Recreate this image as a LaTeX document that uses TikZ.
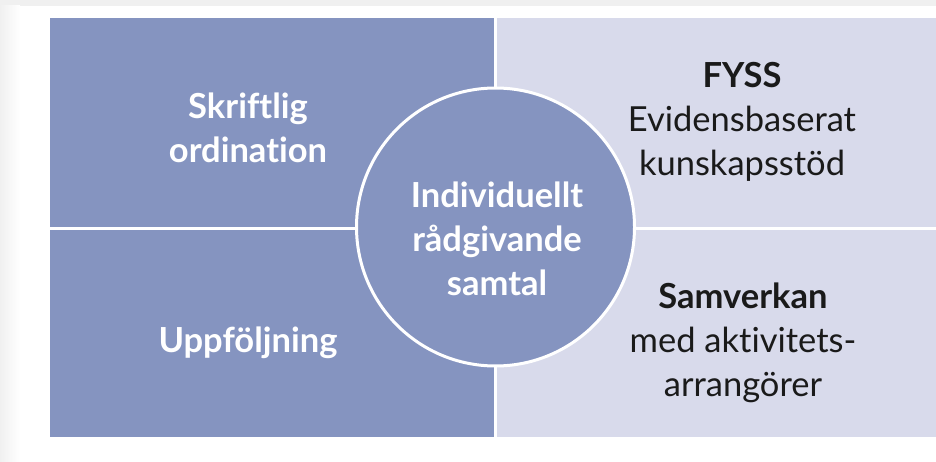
\documentclass[tikz,border=0pt]{standalone}
\usepackage{fontspec}
\setmainfont{Lato}[Ligatures=NoCommon]
\definecolor{darkpanel}{RGB}{133,148,192}
\definecolor{lightpanel}{RGB}{216,218,235}
\definecolor{txtdark}{RGB}{26,26,26}
\definecolor{outergray}{RGB}{240,240,240}
\begin{document}
\begin{tikzpicture}[x=1pt,y=-1pt,
  panel/.style={rectangle, inner sep=0pt, outer sep=0pt, draw=none},
  divider/.style={white, line width=3pt},
  lbl/.style={align=center, inner sep=0pt, font=\fontsize{34.5}{44}\selectfont},
  lbllight/.style={lbl, text=white, font=\fontsize{34.5}{44}\selectfont\bfseries},
  lbldark/.style={lbl, text=txtdark}]
\useasboundingbox (0,0) rectangle (936,462);
\fill[outergray] (0,0) rectangle (936,462);
\shade[left color=outergray, right color=white] (0,6) rectangle (20,462);
\fill[white] (20,6) rectangle (936,462);
% panels
\node[panel, fill=darkpanel, minimum width=445.5pt, minimum height=211pt] (tl) at (272.75,123.5) {};
\node[panel, fill=darkpanel, minimum width=445.5pt, minimum height=208pt] (bl) at (272.75,333) {};
\node[panel, fill=lightpanel, minimum width=440.5pt, minimum height=211pt] (tr) at (715.75,123.5) {};
\node[panel, fill=lightpanel, minimum width=440.5pt, minimum height=208pt] (br) at (715.75,333) {};
\coordinate (vtop) at (495.5,18);
\coordinate (vbot) at (495.5,437);
\coordinate (hl) at (50,229);
\coordinate (hr) at (936,229);
\draw[divider] (vtop) -- (vbot);
\draw[divider] (hl) -- (hr);
% centre circle
\node[circle, fill=darkpanel, draw=white, line width=3pt, minimum size=278pt, inner sep=0pt] (c) at (495.5,227) {};
% texts
\node[lbllight] (t1) at (248,128) {Skriftlig\\ordination};
\node[lbllight] (t2) at (248,343) {Uppföljning};
\node[lbllight] (t3) at (497,239) {Individuellt\\rådgivande\\samtal};
\node[lbldark] (t4) at (742,122) {\textbf{FYSS}\\Evidensbaserat\\kunskapsstöd};
\node[lbldark] (t5) at (743,343) {\textbf{Samverkan}\\med aktivitets-\\arrangörer};
\end{tikzpicture}
\end{document}
